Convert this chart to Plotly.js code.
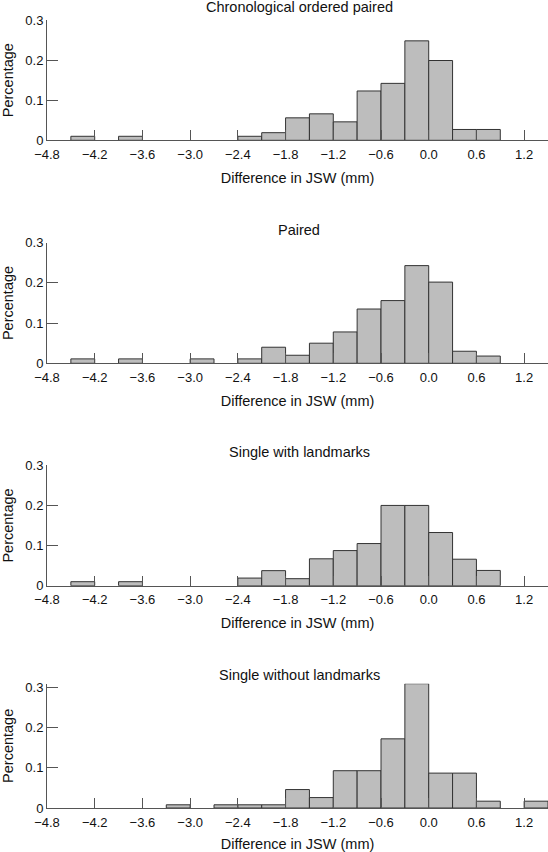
<!DOCTYPE html>
<html>
<head>
<meta charset="utf-8">
<script src="https://cdn.plot.ly/plotly-3.0.1.min.js"></script>
<style>
html,body{margin:0;padding:0;background:#fff;}
#chart{width:548px;height:852px;}
</style>
</head>
<body>
<div id="chart"></div>
<script>
// Bin centres (bin width 0.3 mm, edges at multiples of 0.3)
const binCenters = [-4.65,-4.35,-4.05,-3.75,-3.45,-3.15,-2.85,-2.55,-2.25,-1.95,-1.65,-1.35,-1.05,-0.75,-0.45,-0.15,0.15,0.45,0.75,1.05,1.35];

const panelTitles = ["Chronological ordered paired","Paired","Single with landmarks","Single without landmarks"];

const chronoPaired   = [null,0.010,null,0.010,null,null,null,null,0.010,0.019,0.056,0.066,0.046,0.123,0.142,0.248,0.199,0.027,0.027,null,null];
const paired         = [null,0.011,null,0.011,null,null,0.011,null,0.011,0.040,0.020,0.050,0.078,0.135,0.156,0.243,0.202,0.030,0.018,null,null];
const singleWith     = [null,0.010,null,0.010,null,null,null,null,0.019,0.0375,0.0175,0.067,0.0875,0.105,0.200,0.200,0.1325,0.066,0.038,null,null];
const singleWithout  = [null,null,null,null,null,0.008,null,0.008,0.008,0.008,0.046,0.026,0.093,0.093,0.1725,0.310,0.087,0.087,0.017,null,0.017];

const xTickVals = [-4.8,-4.2,-3.6,-3.0,-2.4,-1.8,-1.2,-0.6,0.0,0.6,1.2];
const xTickText = ["\u22124.8","\u22124.2","\u22123.6","\u22123.0","\u22122.4","\u22121.8","\u22121.2","\u22120.6","0.0","0.6","1.2"];
const yTickVals = [0,0.1,0.2,0.3];
const yTickText = ["0","0.1","0.2","0.3"];

const xLabel = "Difference in JSW (mm)";
const yLabel = "Percentage";

const series = [chronoPaired, paired, singleWith, singleWithout];
const yMax = [0.3, 0.3, 0.3, 0.31];

const H = 852;
// plot-area pixel position of y=0.3 and y=0 in each panel
const tops = [20, 242.7, 465.3, 687.7];
const bots = [140.3, 363.3, 585.7, 808];

const FONT = "Liberation Sans, Arial, Helvetica, sans-serif";
const data = [];
const layout = {
  width: 548, height: 852,
  margin: {l:0, r:0, t:0, b:0},
  paper_bgcolor: "#fff", plot_bgcolor: "#fff",
  showlegend: false,
  font: {family: FONT, color: "#111", size: 13},
  annotations: []
};

series.forEach((vals, i) => {
  const n = i === 0 ? "" : String(i+1);
  data.push({
    type: "bar",
    x: binCenters,
    y: vals,
    width: 0.3,
    xaxis: "x" + n,
    yaxis: "y" + n,
    marker: {color: "#bdbdbd", line: {color: "#333", width: 1}},
    hoverinfo: "skip"
  });
  const pxPerUnit = (bots[i] - tops[i]) / 0.3;
  const topPx = bots[i] - yMax[i] * pxPerUnit;
  const yDom = [1 - bots[i]/H, 1 - topPx/H];
  layout["xaxis" + n] = {
    domain: [47/548, 1],
    anchor: "y" + n,
    range: [-4.8, 1.5],
    tickmode: "array", tickvals: xTickVals, ticktext: xTickText,
    ticks: "inside", ticklen: 10, tickwidth: 1, tickcolor: "#555",
    ticklabelstandoff: 2,
    showline: true, linecolor: "#555", linewidth: 1,
    showgrid: false, zeroline: false,
    tickfont: {family: FONT, size: 13, color: "#111"},
    title: {text: xLabel, font: {family: FONT, size: 14.5, color: "#111"}, standoff: 11},
    automargin: false, fixedrange: true
  };
  layout["yaxis" + n] = {
    domain: yDom,
    anchor: "x" + n,
    range: [0, yMax[i]],
    tickmode: "array", tickvals: yTickVals, ticktext: yTickText,
    ticks: "inside", ticklen: 11, tickwidth: 1, tickcolor: "#555",
    showline: true, linecolor: "#555", linewidth: 1,
    showgrid: false, zeroline: false,
    tickfont: {family: FONT, size: 13, color: "#111"},
    title: {text: yLabel, font: {family: FONT, size: 14.5, color: "#111"}, standoff: 8},
    automargin: false, fixedrange: true
  };
  layout.annotations.push({
    text: panelTitles[i],
    xref: "paper", yref: "paper",
    x: 299/548, y: 1 - (tops[i] - 13)/H,
    xanchor: "center", yanchor: "middle",
    showarrow: false,
    font: {family: FONT, size: 14.5, color: "#111"}
  });
});

Plotly.newPlot("chart", data, layout, {displayModeBar: false, staticPlot: true});
</script>
</body>
</html>
